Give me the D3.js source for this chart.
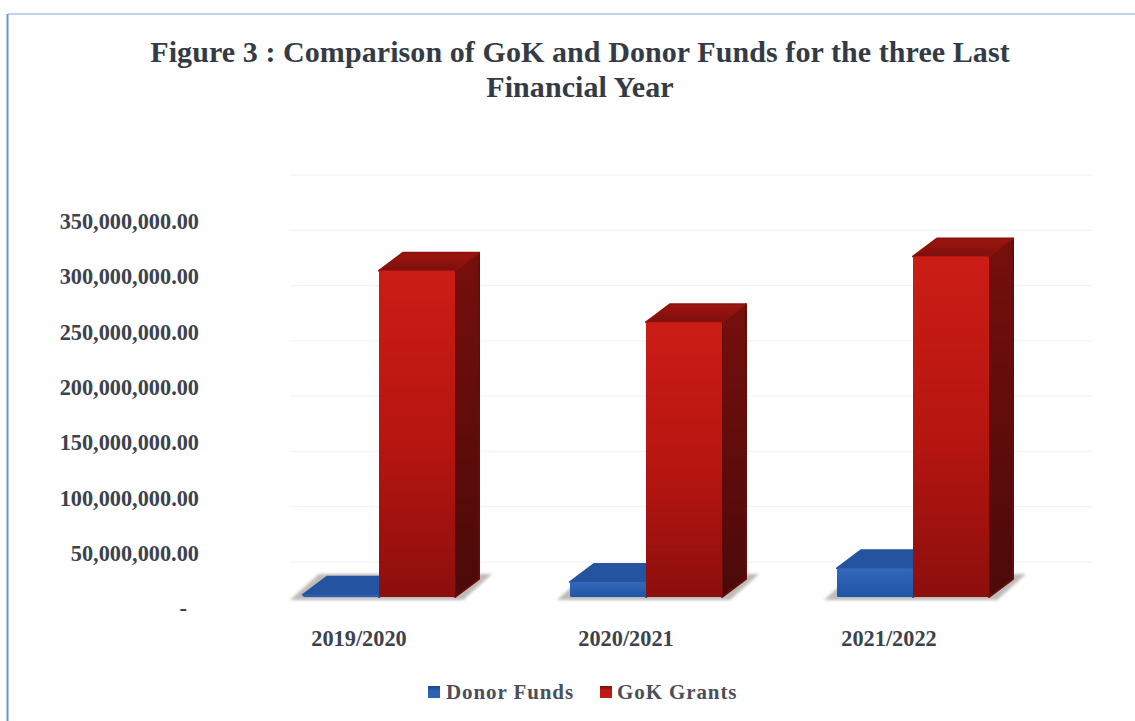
<!DOCTYPE html>
<html>
<head>
<meta charset="utf-8">
<script src="https://cdnjs.cloudflare.com/ajax/libs/d3/7.8.5/d3.min.js"></script>
<style>
  html, body { margin: 0; padding: 0; background: #fff; }
  svg { display: block; }
  text { font-family: "Liberation Serif", serif; font-weight: bold; }
</style>
</head>
<body>
<div id="chart"></div>
<script>
const years = ["2019/2020", "2020/2021", "2021/2022"];
const donorFunds = [2000000, 13500000, 26000000];
const gokGrants = [295000000, 248500000, 308000000];
const yTicks = [0, 50000000, 100000000, 150000000, 200000000, 250000000, 300000000, 350000000];
const titleLines = ["Figure 3 : Comparison of GoK and Donor Funds for the three Last", "Financial Year"];
const seriesNames = ["Donor Funds", "GoK Grants"];

const W = 1135, H = 721;
const svg = d3.select("#chart").append("svg").attr("width", W).attr("height", H);
const defs = svg.append("defs");

// Face gradients for the extruded bars
function gradient(id, stops, horizontal) {
  const g = defs.append("linearGradient").attr("id", id)
    .attr("x1", 0).attr("y1", 0).attr("x2", horizontal ? 1 : 0).attr("y2", horizontal ? 0 : 1);
  stops.forEach(([o, c]) => g.append("stop").attr("offset", o).attr("stop-color", c));
}
gradient("redFront", [[0, "#cb1d15"], [0.55, "#b51510"], [1, "#8c0f0d"]]);
gradient("redSide", [[0, "#760f0c"], [1, "#4a0a09"]]);
gradient("redTop", [[0, "#a01510"], [1, "#7c0f0c"]]);
gradient("blueFront", [[0, "#3568bb"], [1, "#1f55a5"]]);
defs.append("filter").attr("id", "soft")
  .attr("x", "-10%").attr("y", "-30%").attr("width", "120%").attr("height", "160%")
  .append("feGaussianBlur").attr("stdDeviation", 1.5);

// Frame, open on the right and at the bottom
svg.append("line").attr("x1", 8).attr("x2", W).attr("y1", 14).attr("y2", 14)
  .attr("stroke", "#8aa6d6").attr("stroke-width", 1.2);
svg.append("line").attr("x1", 7.5).attr("x2", 7.5).attr("y1", 14).attr("y2", H)
  .attr("stroke", "#6c95d6").attr("stroke-width", 2);

// Title
svg.append("g").selectAll("text").data(titleLines).join("text")
  .attr("x", 580).attr("y", (d, i) => 62 + i * 35)
  .attr("text-anchor", "middle").attr("font-size", 30).attr("letter-spacing", 0.08).attr("fill", "#343b46")
  .text(d => d);

// Scales: y maps a value to a height above the front of the floor
const floorY = 597;
const y = d3.scaleLinear().domain([0, 350000000]).range([floorY, floorY - 387]);
const xLabels = d3.scaleOrdinal().domain(years).range([359, 626, 889]);
const xBars = d3.scaleBand().domain(years).range([245.5, 1046.5]);
const depth = { dx: 24, dy: 18 };
const barW = 76;
const barCentre = yr => xBars(yr) + xBars.bandwidth() / 2;

// Back-wall gridlines sit further up than the bar fronts
const wallShift = 35;
svg.append("g").selectAll("line").data(yTicks).join("line")
  .attr("x1", 290).attr("x2", 1092)
  .attr("y1", d => y(d) - wallShift).attr("y2", d => y(d) - wallShift)
  .attr("stroke", "#f6eff2").attr("stroke-width", 1);

// Value labels on the left
const fmt = d => d === 0 ? "-" : d3.format(",.2f")(d);
svg.append("g").selectAll("text").data(yTicks).join("text")
  .attr("x", d => d === 0 ? 187 : 199).attr("y", d => y(d) + 14)
  .attr("text-anchor", "end").attr("dominant-baseline", "middle")
  .attr("font-size", 22.3).attr("fill", "#3c424e")
  .text(fmt);

// Category labels
svg.append("g").selectAll("text").data(years).join("text")
  .attr("x", d => xLabels(d)).attr("y", 646)
  .attr("text-anchor", "middle").attr("font-size", 22.3).attr("fill", "#3c424e")
  .text(d => d);

// Floor shadow beneath each cluster
const plot = svg.append("g");
plot.append("g").selectAll("path").data(years).join("path")
  .attr("filter", "url(#soft)").attr("fill", "#bdbab8")
  .attr("d", d => {
    const c = barCentre(d);
    const l = c - barW, r = c + barW;
    return d3.line()([[l - 13, floorY + 3], [r + 8, floorY + 3], [r + 37, floorY - 23], [l + 16, floorY - 23]]) + "Z";
  });

// One extruded bar: side, top and front faces
function drawBar(left, value, colours) {
  const top = y(value), right = left + barW, g = plot.append("g")
    .attr("stroke-linejoin", "round").attr("stroke-width", 2);
  const poly = pts => d3.line()(pts) + "Z";
  g.append("path")
    .attr("d", poly([[right, floorY], [right + depth.dx, floorY - depth.dy], [right + depth.dx, top - depth.dy], [right, top]]))
    .attr("fill", colours.side).attr("stroke", colours.sideEdge);
  g.append("path")
    .attr("d", poly([[left, top], [left + depth.dx, top - depth.dy], [right + depth.dx, top - depth.dy], [right, top]]))
    .attr("fill", colours.top).attr("stroke", colours.topEdge);
  g.append("rect").attr("x", left).attr("y", top).attr("width", barW).attr("height", floorY - top)
    .attr("rx", 1.5).attr("fill", colours.front);
}
const blue = { front: "url(#blueFront)", top: "#24539f", topEdge: "#24539f", side: "#173f7d", sideEdge: "#173f7d" };
const red = { front: "url(#redFront)", top: "url(#redTop)", topEdge: "#8c120e", side: "url(#redSide)", sideEdge: "#640c0a" };
years.forEach((yr, i) => {
  const c = barCentre(yr);
  drawBar(c - barW, donorFunds[i], blue);
  drawBar(c, gokGrants[i], red);
});

// Legend
const legendKeys = [[428, "#2a62b4", "#17458c", 446], [600, "#c01a15", "#7d0f0c", 617]];
const legend = svg.append("g");
seriesNames.forEach((name, i) => {
  const [kx, light, dark, tx] = legendKeys[i];
  const gid = "key" + i;
  gradient(gid, [[0, dark], [0.4, light], [1, light]]);
  legend.append("rect").attr("x", kx).attr("y", 686).attr("width", 12).attr("height", 12)
    .attr("fill", `url(#${gid})`);
  legend.append("text").attr("x", tx).attr("y", 699)
    .attr("font-size", 21).attr("letter-spacing", 0.9).attr("fill", "#4a4f5a").text(name);
});
</script>
</body>
</html>
